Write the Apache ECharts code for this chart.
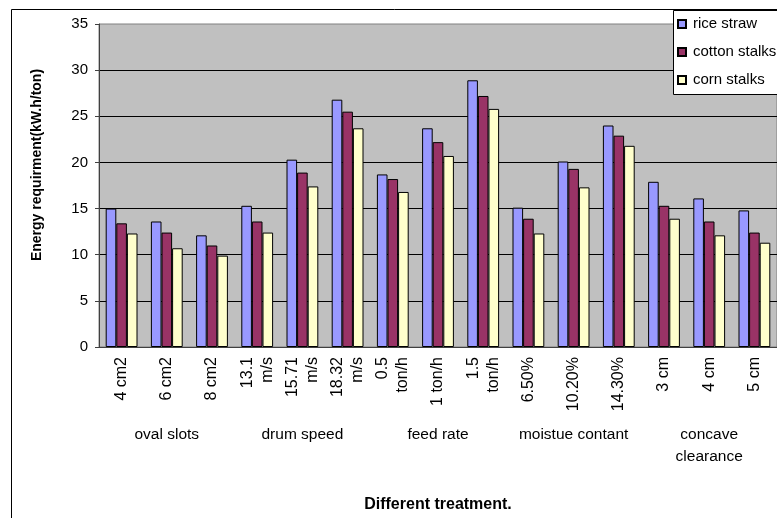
<!DOCTYPE html>
<html>
<head>
<meta charset="utf-8">
<script src="https://cdn.jsdelivr.net/npm/echarts@6/dist/echarts.min.js"></script>
<style>
html,body{margin:0;padding:0;background:#fff;}
#chart{width:777px;height:518px;}
</style>
</head>
<body>
<div id="chart"></div>
<script>
const categories = ['4 cm2','6 cm2','8 cm2','13.1\nm/s','15.71\nm/s','18.32\nm/s','0.5\nton/h','1 ton/h','1.5\nton/h','6.50%','10.20%','14.30%','3 cm','4 cm','5 cm'];
const groups = ['oval slots','drum speed','feed rate','moistue contant','concave\nclearance'];
const seriesNames = ['rice straw','cotton stalks','corn stalks'];
const riceStraw = [15.0,13.6,12.1,15.3,20.3,26.8,18.7,23.7,28.9,15.1,20.1,24.0,17.9,16.1,14.8];
const cottonStalks = [13.4,12.4,11.0,13.6,18.9,25.5,18.2,22.2,27.2,13.9,19.3,22.9,15.3,13.6,12.4];
const cornStalks = [12.3,10.7,9.9,12.4,17.4,23.7,16.8,20.7,25.8,12.3,17.3,21.8,13.9,12.1,11.3];
const colors = ['#9999FF','#993366','#FFFFCC'];
const yTitle = 'Energy requirment(kW.h/ton)';
const xTitle = 'Different treatment.';

const FONT = '"Liberation Sans", Arial, sans-serif';
const chart = echarts.init(document.getElementById('chart'), null, {renderer:'canvas'});
const dataSets = [riceStraw, cottonStalks, cornStalks];

chart.setOption({
  animation: false,
  backgroundColor: '#fff',
  textStyle: {fontFamily: FONT},
  grid: {left: 99, top: 24, width: 689, height: 323, show: true,
    backgroundColor: '#C0C0C0', borderColor: '#808080', borderWidth: 1},
  legend: {
    orient: 'vertical', left: 677, top: 16.5, z: 100, padding: 0,
    itemWidth: 8, itemHeight: 8, itemGap: 13, icon: 'rect',
    textStyle: {fontFamily: FONT, fontSize: 15, lineHeight: 15, color: '#000', padding: [0,0,0,2]},
    data: seriesNames
  },
  xAxis: [{
    type: 'category', data: categories, gridIndex: 0, position: 'bottom',
    axisLine: {show: true, lineStyle: {color: '#404040', width: 1}},
    axisTick: {show: false},
    axisLabel: {interval: 0, rotate: 90, fontFamily: FONT, fontSize: 16, lineHeight: 20, margin: 10, color: '#000'},
    splitLine: {show: false}
  },{
    type: 'category', data: groups, gridIndex: 0, position: 'bottom', offset: 77,
    axisLine: {show: false}, axisTick: {show: false},
    axisLabel: {interval: 0, fontFamily: FONT, fontSize: 15.5, lineHeight: 22, margin: 0, color: '#000'},
    splitLine: {show: false}
  }],
  yAxis: {
    type: 'value', min: 0, max: 35, interval: 5,
    axisLine: {show: true, lineStyle: {color: '#404040', width: 1}},
    axisTick: {show: true, length: 4, lineStyle: {color: '#404040'}},
    axisLabel: {fontFamily: FONT, fontSize: 15, margin: 11, color: '#000'},
    splitLine: {show: true, showMinLine: false, showMaxLine: false, lineStyle: {color: '#000', width: 1}}
  },
  series: seriesNames.map((n, i) => ({
    name: n, type: 'bar', xAxisIndex: 0, data: dataSets[i],
    barWidth: 10.6, barGap: '0%',
    itemStyle: {color: colors[i], borderColor: '#000', borderWidth: 1}
  })),
  graphic: [
    {type: 'rect', z: 50, shape: {x: 673.5, y: 10.5, width: 200, height: 84},
      style: {fill: '#fff', stroke: '#000', lineWidth: 1}},
    {type: 'rect', z: 60, shape: {x: 11.5, y: 9.5, width: 900, height: 700},
      style: {fill: 'none', stroke: '#000', lineWidth: 1}},
    {type: 'text', z: 60, x: 37, y: 165, rotation: Math.PI/2,
      style: {text: yTitle, fontFamily: FONT, fontSize: 14, fontWeight: 'bold', fill: '#000',
        textAlign: 'center', textVerticalAlign: 'middle'}},
    {type: 'text', z: 60, x: 438, y: 505,
      style: {text: xTitle, fontFamily: FONT, fontSize: 16, fontWeight: 'bold', fill: '#000',
        textAlign: 'center', textVerticalAlign: 'middle'}}
  ]
});
</script>
</body>
</html>
